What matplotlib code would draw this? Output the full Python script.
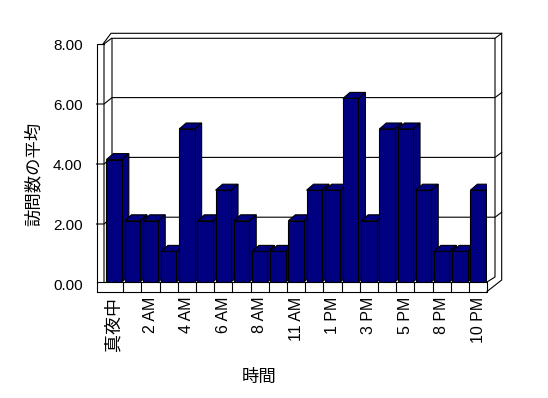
import matplotlib.pyplot as plt
from matplotlib.patches import Polygon

plt.rcParams['font.family'] = ['Liberation Sans', 'Noto Sans CJK JP']

# data
hours = ['真夜中', '1 AM', '2 AM', '3 AM', '4 AM', '5 AM', '6 AM', '7 AM', '8 AM', '9 AM',
         '11 AM', '12 PM', '1 PM', '2 PM', '3 PM', '4 PM', '5 PM', '6 PM', '8 PM', '9 PM', '10 PM']
visits = [4, 2, 2, 1, 5, 2, 3, 2, 1, 1, 2, 3, 3, 6, 2, 5, 5, 3, 1, 1, 3]
yticks = [0, 2, 4, 6, 8]

navy = '#000080'
W, H = 548, 398
fig = plt.figure(figsize=(W / 100, H / 100), dpi=100)

# front plane of the bars (picture pixels)
X0P, X1P = 105.0, 487.2
Y0P, Y8P = 282.0, 37.2
n = len(hours)
ax = fig.add_axes([X0P / W, 1 - Y0P / H, (X1P - X0P) / W, (Y0P - Y8P) / H])
ax.set_xlim(-0.5, n - 0.5)
ax.set_ylim(0, 8)
ax.patch.set_visible(False)
for s in ax.spines.values():
    s.set_visible(False)
ax.set_yticks([])


def px(xp, yp):
    return (-0.5 + (xp - X0P) / (X1P - X0P) * n, (Y0P - yp) / (Y0P - Y8P) * 8)


def line(points, z=1):
    xs, ys = zip(*[px(*p) for p in points])
    ax.plot(xs, ys, color='black', lw=0.8, clip_on=False, zorder=z)


# walls and floor of the 3d box
def y_back(v):
    return 277 - 29.9 * v


def y_front(v):
    return 284 - 30 * v


line([(96.5, 291), (96.5, 44), (104, 44)])
line([(104, 282), (104, 44), (111.5, 38.3)])
line([(103, 44), (111, 33.3), (501.7, 33.3), (501.7, 280), (487, 291.5)])
line([(112, 277), (112, 38.3), (495, 38.3), (495, 277), (487, 282)])
line([(495, 38.3), (501.7, 33.3)])
for v in yticks[1:-1]:
    line([(96.5, y_front(v)), (104, y_front(v)), (112, y_back(v)), (495, y_back(v)),
          (501.7, y_back(v) - 5)])

# floor front face
line([(96.5, 282), (487, 282), (487, 291.5), (96.5, 291.5)], z=10)
for k in range(1, n):
    xp = X0P + (X1P - X0P) / n * k
    line([(xp, 282), (xp, 291.5)], z=10)

# bars with top and side faces
dx = 7 / (X1P - X0P) * n
dy = 6 / (Y0P - Y8P) * 8
bars = ax.bar(range(n), visits, width=0.85, color=navy, edgecolor='black', linewidth=0.8)
for i, (b, v) in enumerate(zip(bars, visits)):
    x0 = b.get_x()
    x1 = x0 + b.get_width()
    z = 3 + i * 0.01
    top = Polygon([(x0, v), (x1, v), (x1 + dx, v + dy), (x0 + dx, v + dy)],
                  closed=True, fc=navy, ec='black', lw=0.8, zorder=z)
    side = Polygon([(x1, 0), (x1, v), (x1 + dx, v + dy), (x1 + dx, dy)],
                   closed=True, fc=navy, ec='black', lw=0.8, zorder=z)
    ax.add_patch(side)
    ax.add_patch(top)
    b.set_zorder(z + 0.005)

ax.set_xticks(range(0, n, 2))
ax.set_xticklabels(hours[::2], rotation=90)
ax.tick_params(axis='x', length=0, pad=10.5)
for lbl in ax.get_xticklabels():
    lbl.set_fontsize(13 if lbl.get_text() == '真夜中' else 11.5)

# value axis on the front edge of the left wall
ay = fig.add_axes([96.5 / W, 1 - 284 / H, 0.001, 240 / H])
ay.set_ylim(0, 8)
ay.set_yticks(yticks)
ay.set_yticklabels(['%.2f' % v for v in yticks], fontsize=11)
ay.set_xticks([])
ay.tick_params(axis='y', length=0, pad=10)
ay.patch.set_visible(False)
for s in ay.spines.values():
    s.set_visible(False)

fig.text(33 / W, 1 - 174 / H, '訪問数の平均', rotation=90, ha='center', va='center', fontsize=12.5)
fig.text(259 / W, 1 - 377 / H, '時間', ha='center', va='center', fontsize=12.5)

fig.savefig('out.png', dpi=100)
